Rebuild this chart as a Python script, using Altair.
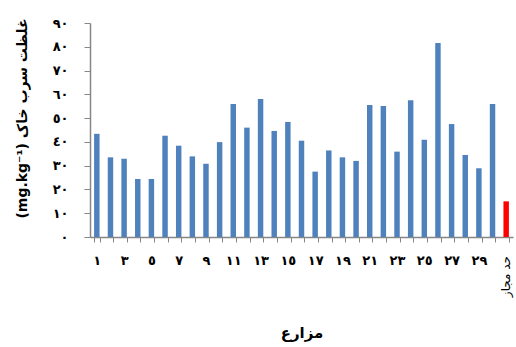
import altair as alt
import pandas as pd

# Farm labels (Arabic-Indic digits) and the permissible-limit category
farm_labels = [
    "١", "٢", "٣", "٤", "٥", "٦", "٧", "٨", "٩", "١٠",
    "١١", "١٢", "١٣", "١٤", "١٥", "١٦", "١٧", "١٨", "١٩", "٢٠",
    "٢١", "٢٢", "٢٣", "٢٤", "٢٥", "٢٦", "٢٧", "٢٨", "٢٩", "٣٠",
]
limit_label = "حد مجاز"

# Soil lead concentration per farm (mg/kg)
lead_values = [
    43.4, 33.5, 32.9, 24.4, 24.4, 42.6, 38.4, 33.9, 30.8, 39.9,
    55.9, 46.0, 58.0, 44.6, 48.4, 40.5, 27.5, 36.4, 33.5, 32.0,
    55.5, 55.1, 35.9, 57.5, 40.9, 81.6, 47.5, 34.5, 28.9, 55.9,
]
limit_value = 15

# Axis tick labels
shown_x_labels = ["١", "٣", "٥", "٧", "٩", "١١", "١٣", "١٥", "١٧", "١٩",
                  "٢١", "٢٣", "٢٥", "٢٧", "٢٩"]
y_tick_values = [0, 10, 20, 30, 40, 50, 60, 70, 80, 90]
y_tick_labels = ["٠", "١٠", "٢٠", "٣٠", "٤٠", "٥٠", "٦٠", "٧٠", "٨٠", "٩٠"]

categories = farm_labels + [limit_label]
df = pd.DataFrame({
    "farm": categories,
    "lead": lead_values + [limit_value],
    "kind": ["farm"] * len(farm_labels) + ["limit"],
})

FONT = "DejaVu Sans"
AXIS_GRAY = "#868686"

x_label_expr = "indexof([" + ",".join(f"'{s}'" for s in shown_x_labels) + "], datum.value) >= 0 ? datum.value : ''"
y_label_expr = "[" + ",".join(f"'{s}'" for s in y_tick_labels) + "][round(datum.value / 10)]"

x_enc = alt.X(
    "farm:N",
    sort=categories,
    scale=alt.Scale(paddingInner=0.6, paddingOuter=0.3),
    axis=alt.Axis(
        title="مزارع",
        titleFont=FONT, titleFontSize=15, titleFontWeight="bold", titleColor="black",
        titleY=95, titleBaseline="middle",
        labelExpr=x_label_expr, labelAngle=0,
        labelFont=FONT, labelFontSize=13, labelFontWeight="bold", labelColor="black",
        labelPadding=12, labelOverlap=False,
        tickBand="extent", tickSize=5, tickColor=AXIS_GRAY,
        domainColor=AXIS_GRAY, domainWidth=1.5,
    ),
)

bars = alt.Chart(df).mark_bar().encode(
    x=x_enc,
    y=alt.Y(
        "lead:Q",
        scale=alt.Scale(domain=[0, 90], nice=False),
        axis=alt.Axis(
            title="(mg.kg⁻¹) غلظت سرب خاک",
            titleFont=FONT, titleFontSize=14, titleFontWeight="bold", titleColor="black",
            titleAngle=270, titleX=-68, titleY=95, titleAlign="center", titleBaseline="middle",
            values=y_tick_values, labelExpr=y_label_expr,
            labelFont=FONT, labelFontSize=13, labelFontWeight="bold", labelColor="black",
            labelPadding=16, grid=False,
            tickSize=6, tickColor=AXIS_GRAY, domainColor=AXIS_GRAY, domainWidth=1.5,
        ),
    ),
    color=alt.Color(
        "kind:N",
        scale=alt.Scale(domain=["farm", "limit"], range=["#4F81BD", "#FF0000"]),
        legend=None,
    ),
)

# Vertical label for the permissible-limit category
limit_text = alt.Chart(pd.DataFrame({"farm": [limit_label]})).mark_text(
    angle=270, align="right", baseline="middle",
    font=FONT, fontSize=12, color="black",
).encode(
    x=x_enc,
    y=alt.value(233),
    text="farm:N",
)

chart = alt.layer(bars, limit_text).properties(
    width=423,
    height=214,
    padding={"left": 90, "top": 23, "right": 3, "bottom": 110},
    autosize=alt.AutoSizeParams(type="none"),
).configure_view(stroke=None)

chart.save("out.html", embed_options={"renderer": "svg", "actions": False})
